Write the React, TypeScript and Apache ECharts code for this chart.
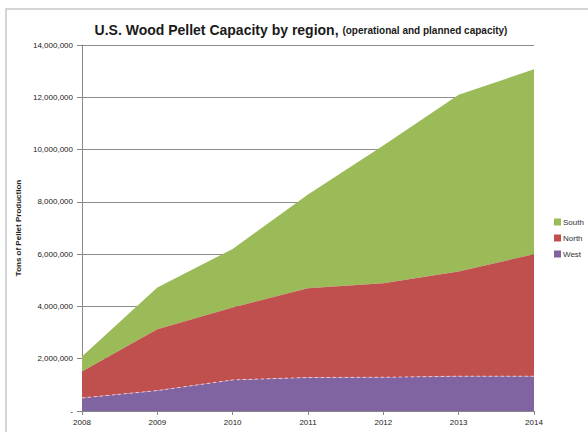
import React, { useEffect, useRef } from "react";
import * as echarts from "echarts";

const years = ["2008", "2009", "2010", "2011", "2012", "2013", "2014"];
const west = [500000, 780000, 1190000, 1280000, 1290000, 1330000, 1330000];
const north = [1010000, 2350000, 2770000, 3420000, 3600000, 4010000, 4670000];
const south = [570000, 1590000, 2240000, 3580000, 5270000, 6760000, 7070000];
const yTicks = [0, 2000000, 4000000, 6000000, 8000000, 10000000, 12000000, 14000000];

const fmt = (v: number) => (v === 0 ? "-" : v.toLocaleString("en-US"));

export default function App() {
  const ref = useRef<HTMLDivElement>(null);
  useEffect(() => {
    if (!ref.current) return;
    const chart = echarts.init(ref.current, null, { renderer: "svg" });
    const font = "'Liberation Sans', Arial, sans-serif";
    chart.setOption({
      animation: false,
      textStyle: { fontFamily: font },
      title: {
        text: "{a|U.S. Wood Pellet Capacity by region, }{b|(operational and planned capacity)}",
        left: 296,
        top: 18,
        textAlign: "center",
        textStyle: {
          rich: {
            a: { fontSize: 14, fontWeight: "bold", color: "#1a1a1a", fontFamily: font },
            b: { fontSize: 10, fontWeight: "bold", color: "#1a1a1a", fontFamily: font },
          },
        },
      },
      graphic: [
        {
          type: "rect",
          shape: { x: 6, y: 9, width: 640, height: 500 },
          style: { fill: "none", stroke: "#c8c8c8", lineWidth: 1.5 },
          silent: true,
        },
      ],
      legend: {
        data: ["South", "North", "West"],
        orient: "vertical",
        left: 549,
        top: 213,
        itemWidth: 7,
        itemHeight: 7,
        itemGap: 8,
        icon: "rect",
        textStyle: { fontSize: 8, color: "#333", padding: [0, 0, 0, -3] },
      },
      grid: { left: 82, right: 54, top: 45, bottom: 21, containLabel: false },
      xAxis: {
        type: "category",
        data: years,
        boundaryGap: false,
        axisLine: { lineStyle: { color: "#888", width: 1 } },
        axisTick: { show: true, length: 4, lineStyle: { color: "#888" } },
        axisLabel: { fontSize: 8, color: "#222", margin: 7 },
      },
      yAxis: {
        type: "value",
        min: yTicks[0],
        max: yTicks[yTicks.length - 1],
        interval: yTicks[1] - yTicks[0],
        name: "Tons of Pellet Production",
        nameLocation: "middle",
        nameGap: 55,
        nameTextStyle: { fontSize: 8, fontWeight: "bold", color: "#222" },
        axisLine: { show: true, lineStyle: { color: "#888", width: 1 } },
        axisTick: { show: true, length: 5, lineStyle: { color: "#888" } },
        axisLabel: { fontSize: 8, color: "#222", margin: 9, formatter: (v: number) => fmt(v) },
        splitLine: { show: true, lineStyle: { color: "#8c8c8c", width: 1 } },
      },
      series: [
        {
          name: "West",
          type: "line",
          stack: "total",
          data: west,
          symbol: "none",
          itemStyle: { color: "#8064A2" },
          lineStyle: { color: "rgba(255,220,230,0.8)", width: 1, type: [3, 3] },
          areaStyle: { color: "#8064A2", opacity: 1 },
          z: 3,
        },
        {
          name: "North",
          type: "line",
          stack: "total",
          data: north,
          symbol: "none",
          itemStyle: { color: "#C0504D" },
          lineStyle: { width: 0 },
          areaStyle: { color: "#C0504D", opacity: 1 },
          z: 2,
        },
        {
          name: "South",
          type: "line",
          stack: "total",
          data: south,
          symbol: "none",
          itemStyle: { color: "#9BBB59" },
          lineStyle: { width: 0 },
          areaStyle: { color: "#9BBB59", opacity: 1 },
          z: 1,
        },
      ],
    });
    return () => chart.dispose();
  }, []);
  return (
    <div
      ref={ref}
      style={{ position: "fixed", left: 0, top: 0, width: 588, height: 432, background: "#fff" }}
    />
  );
}
